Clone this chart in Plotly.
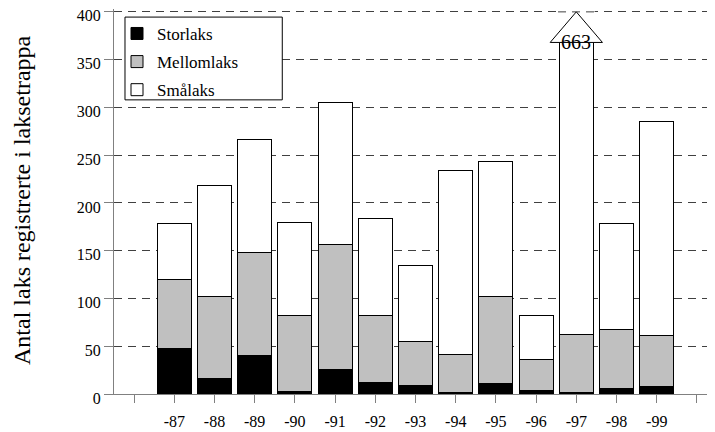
import plotly.graph_objects as go

# Data
years = ["", "-87", "-88", "-89", "-90", "-91", "-92", "-93", "-94", "-95", "-96", "-97", "-98", "-99", ""]
storlaks = [48, 16, 40, 3, 26, 12, 9, 2, 11, 4, 2, 6, 8]
mellomlaks = [72, 86, 108, 79, 130, 70, 46, 39, 91, 32, 60, 62, 53]
smalaks = [59, 116, 118, 98, 149, 102, 80, 193, 141, 46, 601, 111, 224]
y_ticks = [0, 50, 100, 150, 200, 250, 300, 350, 400]

YMAX = 400
BARGAP = 0.15
FONT = "Liberation Serif"

x_pos = list(range(1, len(storlaks) + 1))

fig = go.Figure()

series = [
    ("Storlaks", storlaks, "#000000"),
    ("Mellomlaks", mellomlaks, "#c0c0c0"),
    ("Smålaks", smalaks, "#ffffff"),
]
for name, vals, col in series:
    fig.add_trace(go.Bar(
        x=x_pos,
        y=vals,
        name=name,
        legendgroup=name,
        marker=dict(color=col, line=dict(color="#000000", width=1)),
    ))

# Pil for stolpen som går over skalaen
totals = [a + b + c for a, b, c in zip(storlaks, mellomlaks, smalaks)]
over = [i for i, t in enumerate(totals) if t > YMAX]
for i in over:
    xc = x_pos[i]
    base = YMAX - 32
    half = (1 - BARGAP) / 2 + 0.03
    # skjul toppen av stolpen under pila
    fig.add_shape(
        type="rect", xref="x", yref="y",
        x0=xc - half, x1=xc + half, y0=base, y1=YMAX + 5,
        fillcolor="white", line=dict(width=0), layer="above",
    )
    fig.add_shape(
        type="line", xref="x", yref="y",
        x0=xc - half, x1=xc + half, y0=YMAX, y1=YMAX,
        line=dict(color="#404040", width=1, dash="8px,6px"), layer="above",
    )
    fig.add_shape(
        type="path",
        path=f"M {xc - 0.65} {base} L {xc} {YMAX} L {xc + 0.65} {base} Z",
        xref="x", yref="y",
        fillcolor="white",
        line=dict(color="black", width=1),
        layer="above",
    )
    fig.add_annotation(
        x=xc, y=base, text=str(totals[i]), showarrow=False,
        font=dict(family=FONT, size=20, color="black"),
        yanchor="middle",
    )

# Legendeboks
fig.add_shape(
    type="rect", xref="paper", yref="paper",
    x0=0.0183, x1=0.28, y0=0.764, y1=0.979,
    fillcolor="white", line=dict(color="black", width=1), layer="above",
)

# Aksetittel
fig.add_annotation(
    text="Antal laks registrerte i laksetrappa",
    xref="paper", yref="paper", x=-0.153, y=0.504,
    textangle=-90, showarrow=False,
    xanchor="center", yanchor="middle",
    font=dict(family=FONT, size=24, color="black"),
)

# siden har 8px marg rundt figuren
fig.update_layout(
    barmode="stack",
    bargap=BARGAP,
    width=707,
    height=424,
    margin=dict(l=106, r=0, t=1, b=38),
    paper_bgcolor="white",
    plot_bgcolor="white",
    font=dict(family=FONT, size=16, color="black"),
    showlegend=True,
    legend=dict(
        x=0.005, y=0.982, xanchor="left", yanchor="top",
        bgcolor="rgba(0,0,0,0)",
        borderwidth=0,
        font=dict(family=FONT, size=17, color="black"),
        traceorder="grouped",
        tracegroupgap=3,
        itemwidth=30,
    ),
    xaxis=dict(
        range=[-0.5, 14.45],
        tickmode="array",
        tickvals=list(range(len(years))),
        ticktext=years,
        showgrid=False,
        showline=True,
        linecolor="#808080",
        linewidth=1,
        ticks="outside",
        ticklen=8,
        tickcolor="#808080",
        ticklabelstandoff=5,
        zeroline=False,
        automargin=False,
    ),
    yaxis=dict(
        range=[0, YMAX + 3],
        tickvals=y_ticks,
        showgrid=True,
        gridcolor="#404040",
        gridwidth=1,
        griddash="8px,6px",
        showline=True,
        linecolor="#808080",
        linewidth=1,
        ticks="outside",
        ticklen=9,
        tickcolor="#808080",
        ticklabeloverflow="allow",
        ticklabelshift=4,
        zeroline=False,
        automargin=False,
    ),
)

fig.write_html("out.html")
